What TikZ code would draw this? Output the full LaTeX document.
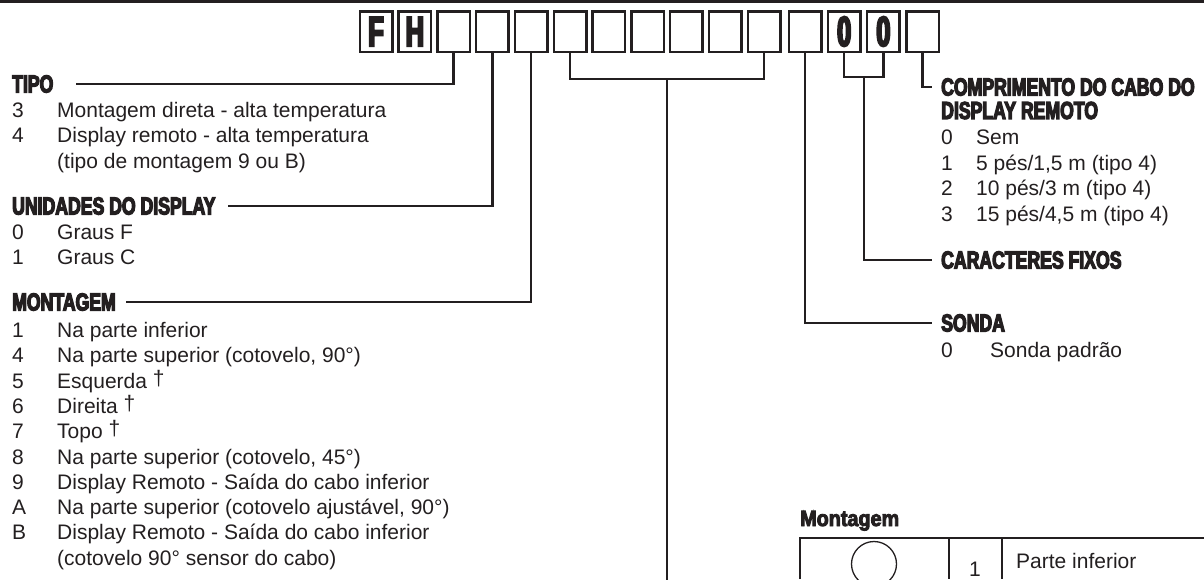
\documentclass[tikz,border=0pt]{standalone}
\usepackage{fontspec}
\setmainfont{Liberation Sans}
\newfontfamily\headfont{Liberation Sans}[FakeStretch=0.72,FakeBold=5]
\newfontfamily\boxfont{Liberation Sans}[FakeStretch=0.6,FakeBold=5]
\newfontfamily\titlefont{Liberation Sans}[FakeStretch=0.9,FakeBold=4]
\usetikzlibrary{calc}
\definecolor{ink}{HTML}{231F20}
\tikzset{
  codebox/.style={draw=ink, line width=2.5pt, minimum width=32.5pt, minimum height=40.5pt,
    inner sep=0pt, text=ink, font=\boxfont\bfseries\fontsize{42}{42}\selectfont},
  heading/.style={anchor=west, inner sep=0pt, text=ink,
    font=\headfont\bfseries\fontsize{24.5}{21.5}\selectfont},
  item/.style={anchor=base west, inner sep=0pt, text=ink, font=\fontsize{21}{25.3}\selectfont},
  conn/.style={draw=ink, line width=2.3pt},
  rule/.style={draw=ink, line width=1.3pt}
}

\begin{document}
\begin{tikzpicture}[x=1pt,y=-1pt]
  \useasboundingbox (0,0) rectangle (1204,579);
  \clip (0,0) rectangle (1204,579);
  \fill[ink] (0,0) rectangle (1204,3);
  \foreach \i/\t in {1/F, 2/H, 3/{}, 4/{}, 5/{}, 6/{}, 7/{}, 8/{}, 9/{}, 10/{}, 11/{}}
    \node[codebox] (b\i) at ({376+38.8*(\i-1)}, 31.5) {\t};
  \foreach \i/\t in {12/{}, 13/0, 14/0, 15/{}}
    \node[codebox] (b\i) at ({805+39.2*(\i-12)}, 31.5) {\t};

  \node[heading] (tipo) at (12, 84) {TIPO};
  \node[heading] (unid) at (12, 206) {UNIDADES DO DISPLAY};
  \node[heading] (mont) at (12, 302) {MONTAGEM};
  \node[heading] (comp) at (941, 87) {COMPRIMENTO DO CABO DO};
  \node[heading] (comp2) at (941, 110.5) {DISPLAY REMOTO};
  \node[heading] (fixos) at (941, 260) {CARACTERES FIXOS};
  \node[heading] (sonda) at (941, 323) {SONDA};

  \foreach \n/\t [count=\i from 0] in {3/Montagem direta - alta temperatura,
      4/Display remoto - alta temperatura, /{(tipo de montagem 9 ou B)}}{
    \node[item] (tn\i) at (12, 117.5+25.3*\i) {\n};
    \node[item] (tt\i) at (57, 117.5+25.3*\i) {\t};}
  \foreach \n/\t [count=\i from 0] in {0/Graus F, 1/Graus C}{
    \node[item] (un\i) at (12, 239.5+25.3*\i) {\n};
    \node[item] (ut\i) at (57, 239.5+25.3*\i) {\t};}
  \foreach \n/\t [count=\i from 0] in {1/Na parte inferior,
      4/{Na parte superior (cotovelo, 90°)}, 5/Esquerda \raisebox{3pt}{†}, 6/Direita \raisebox{3pt}{†},
      7/Topo \raisebox{3pt}{†}, 8/{Na parte superior (cotovelo, 45°)},
      9/Display Remoto - Saída do cabo inferior,
      A/{Na parte superior (cotovelo ajustável, 90°)}, B/Display Remoto - Saída do cabo inferior,
      /{(cotovelo 90° sensor do cabo)}}{
    \node[item] (mn\i) at (12, 337.5+25.3*\i) {\n};
    \node[item] (mt\i) at (57, 337.5+25.3*\i) {\t};}
  \foreach \n/\t [count=\i from 0] in {0/Sem, 1/{5 pés/1,5 m (tipo 4)},
      2/{10 pés/3 m (tipo 4)}, 3/{15 pés/4,5 m (tipo 4)}}{
    \node[item] (cn\i) at (941, 144.5+25.5*\i) {\n};
    \node[item] (ct\i) at (976, 144.5+25.5*\i) {\t};}
  \node[item] (sn0) at (941, 357.5) {0};
  \node[item] (st0) at (990, 357.5) {Sonda padrão};

  \draw[conn] (b3.south) |- ([xshift=22pt]tipo.east);
  \draw[conn] (b4.south) |- ([xshift=12pt]unid.east);
  \draw[conn] (b5.south) |- ([xshift=10pt]mont.east);
  \coordinate (stem) at ($(b6.south)!.5!(b11.south)+(0,26.25)$);
  \draw[conn] (b6.south) |- (stem) -| (b11.south);
  \draw[conn] (stem) -- ++(0,520);
  \draw[conn] (b12.south) |- ([xshift=-9pt]sonda.west);
  \coordinate (fix) at ($(b13.south)!.5!(b14.south)+(0,24.25)$);
  \draw[conn] (b13.south) |- (fix) -| (b14.south);
  \draw[conn] (fix) |- ([xshift=-9pt]fixos.west);
  \draw[conn] (b15.south) |- ([xshift=-9pt]comp.west);

  \node[anchor=base west, inner sep=0pt, text=ink,
    font=\titlefont\bfseries\fontsize{22}{22}\selectfont] (tab) at (800, 526) {Montagem};
  \draw[rule] (800,579) -- (800,538) -- (1204,538);
  \draw[rule] (949,538) -- (949,579);
  \draw[rule] (1002,538) -- (1002,579);
  \draw[rule] (874,564) circle (22.5);
  \node[item] (tabn) at (969, 576) {1};
  \node[item] (tabt) at (1016, 568) {Parte inferior};
\end{tikzpicture}
\end{document}
